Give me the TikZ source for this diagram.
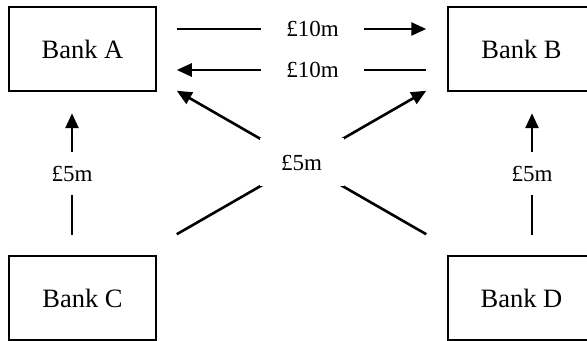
\documentclass[tikz,border=0pt]{standalone}
\usepackage{fontspec}
\setmainfont{Liberation Serif}
\usepackage{tikz}
\usetikzlibrary{positioning,arrows.meta}

\begin{document}
\begin{tikzpicture}[x=0.5pt, y=-0.5pt, on grid,
    bank/.style={rectangle, draw, line width=0.75pt, minimum width=73.5pt, minimum height=42pt, font=\fontsize{13.25}{16}\selectfont},
    flow/.style={-{Triangle[length=7.5pt,width=6.5pt]}, line width=1.3pt},
    amount/.style={fill=white, font=\fontsize{11.5}{14}\selectfont}]
    \clip (0,0) rectangle (587,341);
    \node[bank] (bankA) at (82.5,49) {Bank A};
    \node[bank, right=219.5pt of bankA] (bankB) {Bank B};
    \node[bank, below=124.5pt of bankA] (bankC) {Bank C};
    \node[bank, below=124.5pt of bankB] (bankD) {Bank D};
    
    % loans between A and B
    \draw[flow, shorten <=10pt, shorten >=10.5pt] ([yshift=10pt]bankA.east) -- ([yshift=10pt]bankB.west) node[amount, pos=0.536, inner xsep=12.75pt] {£10m};
    \draw[flow, shorten <=10.5pt, shorten >=10pt] ([yshift=-10.5pt]bankB.west) -- ([yshift=-10.5pt]bankA.east) node[amount, pos=0.464, inner xsep=12.75pt] {£10m};
    % C and D lend upwards
    \draw[flow, shorten <=10pt, shorten >=10.75pt] ([xshift=-5.25pt]bankC.north) -- ([xshift=-5.25pt]bankA.south) node[amount, midway, inner ysep=6.9pt] {£5m};
    \draw[flow, shorten <=10pt, shorten >=10.75pt] ([xshift=5.25pt]bankD.north) -- ([xshift=5.25pt]bankB.south) node[amount, midway, inner ysep=6.9pt] {£5m};
    % crossing loans
    \draw[flow] ([shift={(-10.5pt,10.5pt)}]bankD.north west) -- ([shift={(10pt,0.5pt)}]bankA.south east);
    \draw[flow] ([shift={(10pt,10.5pt)}]bankC.north east) -- ([shift={(-10.5pt,0.5pt)}]bankB.south west) node[amount, midway, inner sep=0pt, minimum width=42pt, minimum height=24pt] {£5m};
\end{tikzpicture}
\end{document}
